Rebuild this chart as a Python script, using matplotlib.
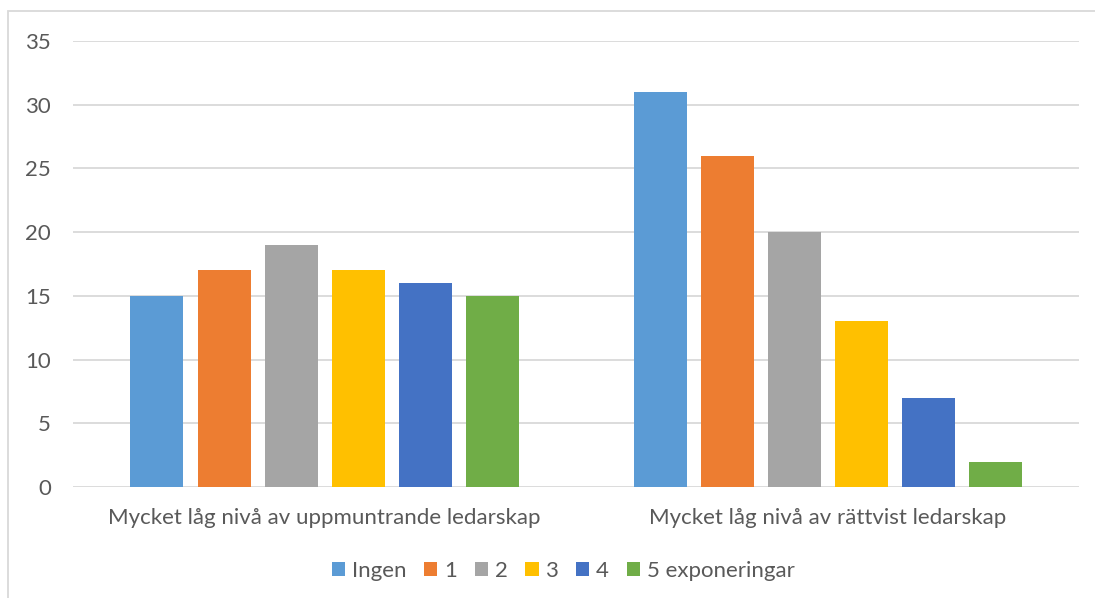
import numpy as np
import matplotlib.pyplot as plt
from matplotlib.patches import Rectangle

kategorier = ['Mycket låg nivå av uppmuntrande ledarskap',
              'Mycket låg nivå av rättvist ledarskap']
serier = ['Ingen', '1', '2', '3', '4', '5 exponeringar']
varden = [
    [15, 31],
    [17, 26],
    [19, 20],
    [17, 13],
    [16, 7],
    [15, 2],
]
farger = ['#5B9BD5', '#ED7D31', '#A5A5A5', '#FFC000', '#4472C4', '#70AD47']

plt.rcParams['font.family'] = ['Lato', 'DejaVu Sans']
textfarg = '#595959'

fig = plt.figure(figsize=(10.95, 5.98), dpi=100)
ax = fig.add_axes([73/1095, 1 - 487/598, (1079 - 73)/1095, (487 - 41)/598])

x = np.arange(len(kategorier))
steg = 67/503
bredd = 53/503
for i, (namn, v) in enumerate(zip(serier, varden)):
    pos = x + (i - 2.5)*steg
    ax.bar(pos, v, width=bredd, color=farger[i], label=namn, zorder=3)

ax.set_xlim(-0.5, 1.5)
ax.set_ylim(0, 35)
ax.set_yticks(range(0, 36, 5))
ax.set_xticks(x)
ax.set_xticklabels(kategorier)
ax.grid(axis='y', color='#D9D9D9', linewidth=1.3, zorder=0)
ax.tick_params(axis='both', length=0, labelsize=16, colors=textfarg)
ax.tick_params(axis='y', pad=16)
ax.tick_params(axis='x', pad=15)
for s in ax.spines.values():
    s.set_visible(False)

ax.legend(loc='center', bbox_to_anchor=(563/1095, 1 - 571/598),
          bbox_transform=fig.transFigure, ncol=6, frameon=False,
          fontsize=16, labelcolor=textfarg, handlelength=0.6,
          handleheight=0.6, handletextpad=0.3, columnspacing=0.8)

# ram runt diagramytan
fig.patches.append(Rectangle((8/1095, -0.05), 1.1, 1 - 11/598 + 0.05,
                             transform=fig.transFigure, fill=False,
                             edgecolor='#D9D9D9', linewidth=1.3))

fig.savefig('out.png', dpi=100)
